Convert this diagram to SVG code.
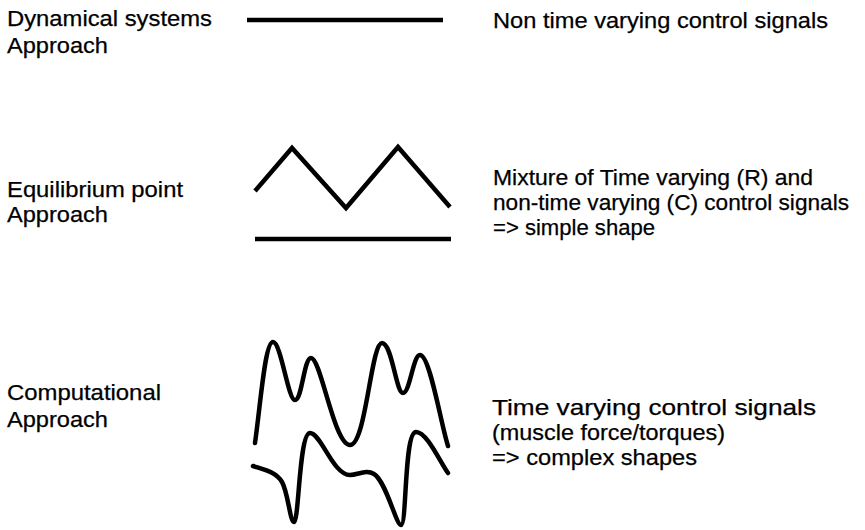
<svg xmlns="http://www.w3.org/2000/svg" width="865" height="530" viewBox="0 0 865 530">
<style>
text{font-family:"Liberation Sans",Arial,sans-serif;font-size:22px;fill:#000;stroke:#000;stroke-width:0.25}
.sig{fill:none;stroke:#000;stroke-width:4.5;stroke-linejoin:miter;stroke-linecap:butt}
.curve{fill:none;stroke:#000;stroke-width:4.5;stroke-linejoin:round;stroke-linecap:round}
</style>
<rect width="865" height="530" fill="#fff"/>
<g id="labels-left">
<g id="dynamical-label">
<text x="7" y="26" textLength="205" lengthAdjust="spacingAndGlyphs">Dynamical systems</text>
<text x="7" y="53" textLength="101" lengthAdjust="spacingAndGlyphs">Approach</text>
</g>
<g id="equilibrium-label">
<text x="7" y="197" textLength="176" lengthAdjust="spacingAndGlyphs">Equilibrium point</text>
<text x="7" y="222" textLength="101" lengthAdjust="spacingAndGlyphs">Approach</text>
</g>
<g id="computational-label">
<text x="7" y="400" textLength="154" lengthAdjust="spacingAndGlyphs">Computational</text>
<text x="7" y="427" textLength="101" lengthAdjust="spacingAndGlyphs">Approach</text>
</g>
</g>
<g id="signals">
<g id="dynamical-signal">
<line class="sig" x1="247" y1="20" x2="443" y2="20"/>
</g>
<g id="equilibrium-signal">
<polyline class="sig" points="255,191 292,148 346,208 398,147 450,207"/>
<line class="sig" x1="255" y1="239" x2="451" y2="239"/>
</g>
<g id="computational-signal">
<path class="curve" d="M255,443 C261,400 265,342 273,342 C281,342 288,400 295,400 C302,400 304,358 311,358 C321,358 334,445 350,445 C366,445 371,343 382,343 C392,343 396,393 403,393 C410,393 413,355 420,355 C430,355 441,425 448,446"/>
<path class="curve" d="M253,466 C265,470 276,472 282,482 C288,492 290,522 294,522 C299,522 299,433 310,433 C321,433 333,475 350,475 C358,475 366,469 374,474 C386,481 396,525 401,525 C407,525 404,432 416,432 C427,432 440,462 448,473"/>
</g>
</g>
<g id="labels-right">
<g id="dynamical-desc">
<text x="493" y="28" textLength="335" lengthAdjust="spacingAndGlyphs">Non time varying control signals</text>
</g>
<g id="equilibrium-desc">
<text x="493" y="185" textLength="320" lengthAdjust="spacingAndGlyphs">Mixture of Time varying (R) and</text>
<text x="493" y="210" textLength="356" lengthAdjust="spacingAndGlyphs">non-time varying (C) control signals</text>
<text x="493" y="235" textLength="162" lengthAdjust="spacingAndGlyphs">=&gt; simple shape</text>
</g>
<g id="computational-desc">
<text x="492" y="415" textLength="324" lengthAdjust="spacingAndGlyphs">Time varying control signals</text>
<text x="492" y="440" textLength="233" lengthAdjust="spacingAndGlyphs">(muscle force/torques)</text>
<text x="492" y="465" textLength="205" lengthAdjust="spacingAndGlyphs">=&gt; complex shapes</text>
</g>
</g>
</svg>
